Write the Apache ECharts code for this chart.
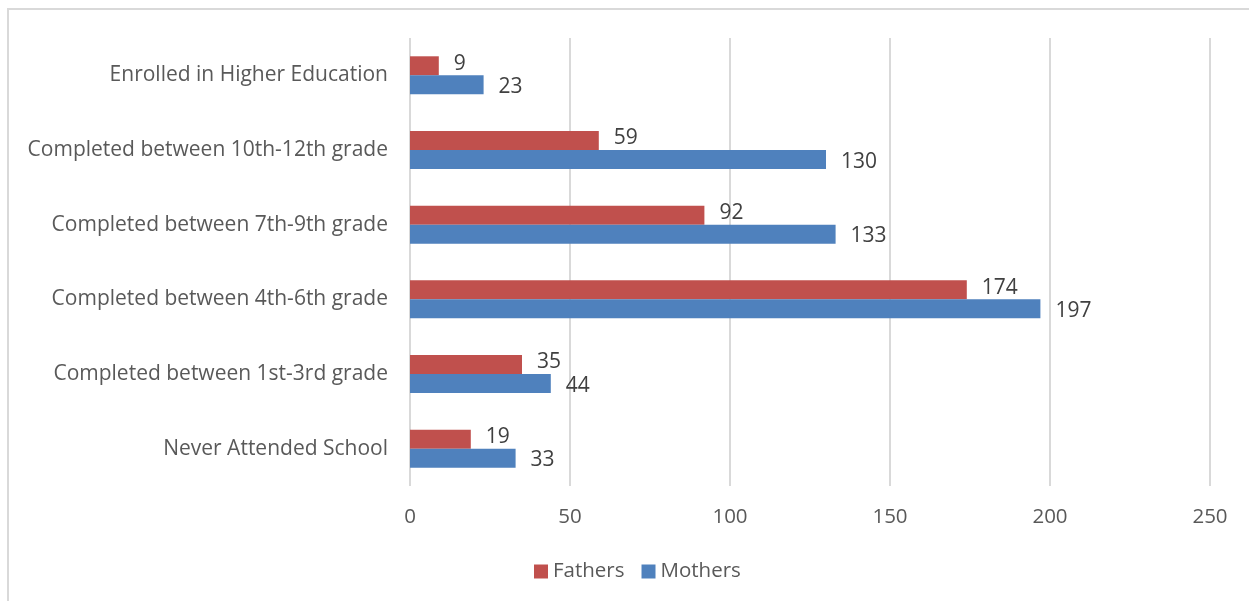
<!DOCTYPE html>
<html>
<head>
<meta charset="utf-8">
<script src="https://cdn.jsdelivr.net/npm/echarts@6/dist/echarts.min.js"></script>
<style>
  html, body { margin: 0; padding: 0; background: #ffffff; }
  #chart { width: 1249px; height: 601px; }
</style>
</head>
<body>
<div id="chart"></div>
<script>
// categories listed bottom -> top, as the category axis draws them
var categories = [
    'Never Attended School',
    'Completed between 1st-3rd grade',
    'Completed between 4th-6th grade',
    'Completed between 7th-9th grade',
    'Completed between 10th-12th grade',
    'Enrolled in Higher Education'
];
var fathers = [19, 35, 174, 92, 59, 9];
var mothers = [33, 44, 197, 133, 130, 23];
var seriesNames = ['Fathers', 'Mothers'];

var textColor = '#595959';
var valueColor = '#404040';
var fontName = 'Open Sans';

var myChart = echarts.init(document.getElementById('chart'));
myChart.setOption({
    animation: false,
    color: ['#C0504D', '#4F81BD'],
    textStyle: { fontFamily: fontName },
    graphic: [{
        type: 'rect',
        shape: { x: 8, y: 9, width: 1400, height: 800 },
        style: { fill: 'none', stroke: '#D9D9D9', lineWidth: 2 },
        silent: true
    }],
    legend: {
        data: seriesNames,
        bottom: 14,
        left: 529,
        itemWidth: 14,
        itemHeight: 14,
        itemGap: 17,
        icon: 'rect',
        textStyle: { color: textColor, fontSize: 20.5, fontFamily: fontName }
    },
    grid: {
        left: 410,
        right: 39,
        top: 38,
        bottom: 115,
        containLabel: false
    },
    xAxis: {
        type: 'value',
        min: 0,
        max: 250,
        interval: 50,
        axisLine: { show: false },
        axisTick: { show: false },
        axisLabel: { color: textColor, fontSize: 20.5, margin: 21 },
        splitLine: { lineStyle: { color: '#D9D9D9', width: 2 } }
    },
    yAxis: {
        type: 'category',
        data: categories,
        axisLine: { show: false },
        axisTick: { show: false },
        axisLabel: { color: textColor, fontSize: 21, margin: 22 }
    },
    series: [
        {
            name: seriesNames[0],
            type: 'bar',
            data: fathers,
            barGap: '0%',
            barCategoryGap: '49%',
            label: {
                show: true,
                position: 'right',
                distance: 15,
                offset: [0, -2],
                color: valueColor,
                fontSize: 21
            }
        },
        {
            name: seriesNames[1],
            type: 'bar',
            data: mothers,
            barGap: '0%',
            barCategoryGap: '49%',
            label: {
                show: true,
                position: 'right',
                distance: 15,
                offset: [0, 2],
                color: valueColor,
                fontSize: 21
            }
        }
    ]
});
</script>
</body>
</html>
